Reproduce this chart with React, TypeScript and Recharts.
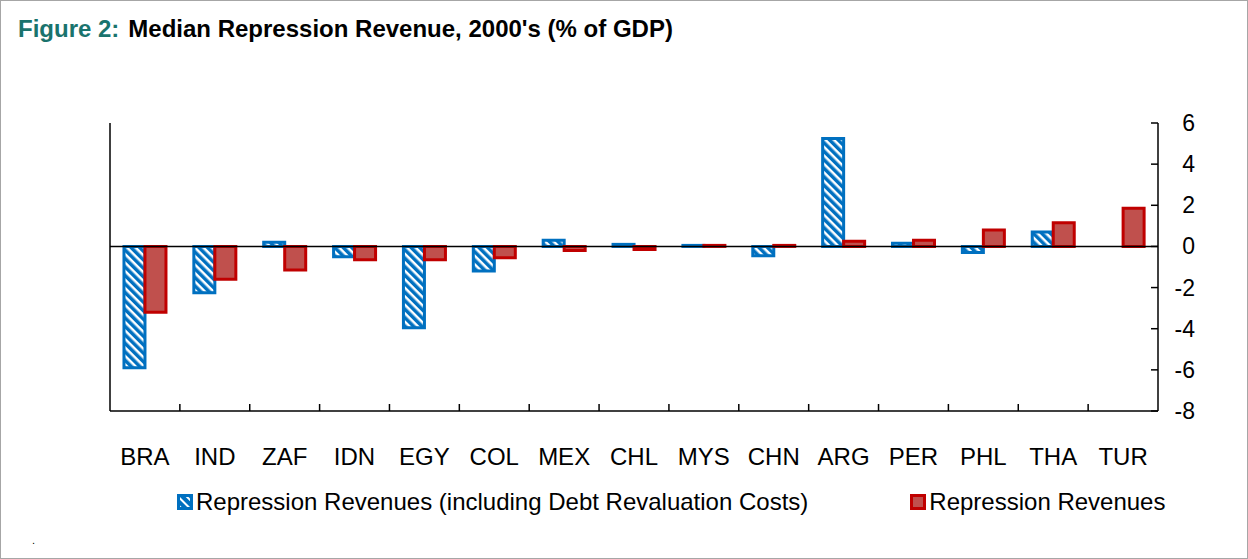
import { Bar, BarChart, ReferenceLine, XAxis, YAxis } from "recharts";

const countries = ["BRA", "IND", "ZAF", "IDN", "EGY", "COL", "MEX", "CHL", "MYS", "CHN", "ARG", "PER", "PHL", "THA", "TUR"];
const withDebtCosts = [-5.9, -2.25, 0.2, -0.5, -3.95, -1.2, 0.3, 0.1, 0.05, -0.45, 5.25, 0.15, -0.3, 0.7, null];
const repressionOnly = [-3.2, -1.6, -1.15, -0.65, -0.65, -0.55, -0.2, -0.15, 0.05, 0.05, 0.25, 0.3, 0.8, 1.15, 1.85];
const rightTicks = [-8, -6, -4, -2, 0, 2, 4, 6];
const leftTicks = [0, 1, 2, 3, 4, 5, 6];
const seriesNames = ["Repression Revenues (including Debt Revaluation Costs)", "Repression Revenues"];

const rows = countries.map((c, i) => ({ country: c, debt: withDebtCosts[i], rep: repressionOnly[i] }));

const BLUE = "#0070C0";
const RED_EDGE = "#C00000";
const RED_FILL = "#C0504D";
const FONT = "'Liberation Sans', Arial, sans-serif";
const HALF_BAND = 1048 / 15 / 2;

function LeftTick(props: any) {
  const { x, y } = props;
  return <line x1={x} x2={x + 7} y1={y} y2={y} stroke="#000" strokeWidth={1.5} />;
}

function RightTick(props: any) {
  const { x, y, payload } = props;
  return (
    <g>
      <line x1={x - 7} x2={x} y1={y} y2={y} stroke="#000" strokeWidth={1.5} />
      <text x={x + 37} y={y} dy={8} textAnchor="end" fontSize={23} fontFamily={FONT} fill="#000">
        {payload.value}
      </text>
    </g>
  );
}

function CountryTick(props: any) {
  const { x, y, payload, index } = props;
  return (
    <g>
      {index > 0 && (
        <line x1={x - HALF_BAND} x2={x - HALF_BAND} y1={y} y2={y - 7} stroke="#000" strokeWidth={1.5} />
      )}
      <text x={x} y={y + 54} textAnchor="middle" fontSize={24} fontFamily={FONT} fill="#000">
        {payload.value}
      </text>
    </g>
  );
}

function HatchIcon() {
  return (
    <svg width={16} height={16} style={{ marginRight: 3 }}>
      <defs>
        <pattern id="hatchIcon" patternUnits="userSpaceOnUse" width={6} height={6} patternTransform="rotate(-45)">
          <rect width={6} height={6} fill="#fff" />
          <rect width={4} height={6} fill={BLUE} />
        </pattern>
      </defs>
      <rect x={1.5} y={1.5} width={13} height={13} fill="url(#hatchIcon)" stroke={BLUE} strokeWidth={3} />
    </svg>
  );
}

function SolidIcon() {
  return (
    <svg width={16} height={16} style={{ marginRight: 3 }}>
      <rect x={1.5} y={1.5} width={13} height={13} fill={RED_FILL} stroke={RED_EDGE} strokeWidth={3} />
    </svg>
  );
}

export default function App() {
  return (
    <div
      style={{
        position: "absolute",
        left: 0,
        top: 0,
        width: 1248,
        height: 559,
        boxSizing: "border-box",
        border: "1px solid #a6a6a6",
        background: "#fff",
        fontFamily: FONT,
      }}
    >
      <div style={{ position: "absolute", left: 17, top: 15, fontSize: 24, fontWeight: "bold", lineHeight: "26px", whiteSpace: "nowrap" }}>
        <span style={{ color: "#1A736D" }}>Figure 2:</span>
        <span style={{ color: "#000", marginLeft: 9 }}>Median Repression Revenue, 2000's (% of GDP)</span>
      </div>

      <div style={{ position: "absolute", left: -1, top: -1 }}>
        <BarChart
          width={1248}
          height={559}
          data={rows}
          margin={{ top: 123, right: 89, bottom: 147, left: 109 }}
          barCategoryGap="20%"
          barGap={0}
        >
          <defs>
            <pattern id="hatch" patternUnits="userSpaceOnUse" width={6} height={6} patternTransform="rotate(-45)">
              <rect width={6} height={6} fill="#fff" />
              <rect width={3.5} height={6} fill={BLUE} />
            </pattern>
          </defs>
          <XAxis
            dataKey="country"
            height={1}
            tickSize={0}
            tickMargin={0}
            tickLine={false}
            tick={CountryTick}
            interval={0}
            axisLine={{ stroke: "#000", strokeWidth: 1.5 }}
          />
          <YAxis
            yAxisId="left"
            orientation="left"
            width={1}
            domain={[0, 6]}
            ticks={leftTicks}
            tickSize={0}
            tickMargin={0}
            tickLine={false}
            tick={LeftTick}
            axisLine={{ stroke: "#000", strokeWidth: 1.5 }}
          />
          <YAxis
            yAxisId="right"
            orientation="right"
            width={1}
            domain={[-8, 6]}
            ticks={rightTicks}
            tickSize={0}
            tickMargin={0}
            tickLine={false}
            tick={RightTick}
            axisLine={{ stroke: "#000", strokeWidth: 1.5 }}
          />
          <Bar
            yAxisId="right"
            dataKey="debt"
            name={seriesNames[0]}
            fill="url(#hatch)"
            stroke={BLUE}
            strokeWidth={3}
            isAnimationActive={false}
          />
          <Bar
            yAxisId="right"
            dataKey="rep"
            name={seriesNames[1]}
            fill={RED_FILL}
            stroke={RED_EDGE}
            strokeWidth={3}
            isAnimationActive={false}
          />
          <ReferenceLine yAxisId="right" y={0} stroke="#000" strokeWidth={1.5} />
        </BarChart>
      </div>

      <div style={{ position: "absolute", left: 176, top: 487, display: "flex", alignItems: "center", fontSize: 24, whiteSpace: "nowrap" }}>
        <HatchIcon />
        <span>{seriesNames[0]}</span>
        <span style={{ display: "inline-block", width: 102 }} />
        <SolidIcon />
        <span>{seriesNames[1]}</span>
      </div>

      <div style={{ position: "absolute", left: 31, top: 533, fontSize: 11 }}>.</div>
    </div>
  );
}
